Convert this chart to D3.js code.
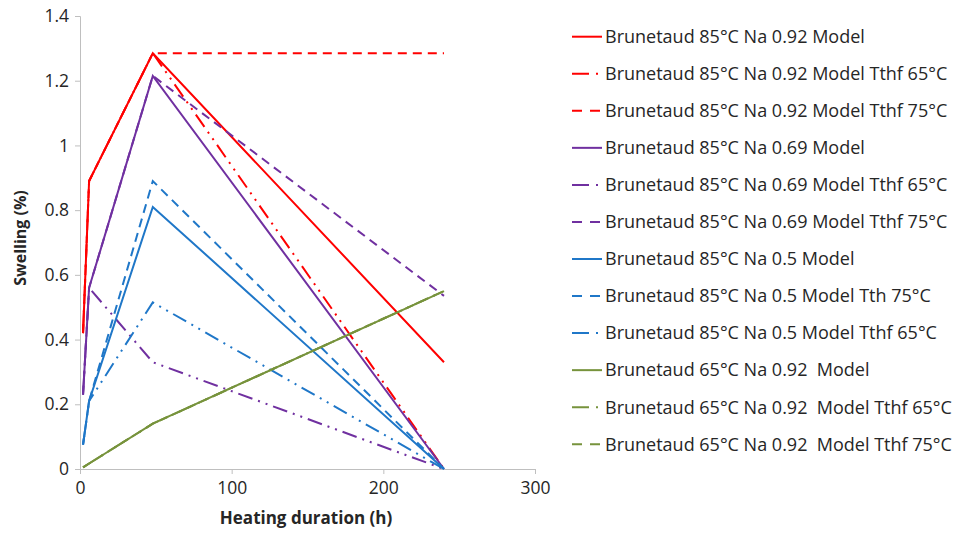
<!DOCTYPE html>
<html>
<head>
<meta charset="utf-8">
<script src="https://cdn.jsdelivr.net/npm/d3@7"></script>
<style>
  body { margin: 0; background: #fff; }
  text { font-family: "Open Sans", "Noto Sans", sans-serif; fill: #262626; }
</style>
</head>
<body>
<div id="chart"></div>
<script>
// heating times (h)
var hours = [2, 6, 48, 240];

var seriesNames = [
  "Brunetaud 85°C Na 0.92 Model",
  "Brunetaud 85°C Na 0.92 Model Tthf 65°C",
  "Brunetaud 85°C Na 0.92 Model Tthf 75°C",
  "Brunetaud 85°C Na 0.69 Model",
  "Brunetaud 85°C Na 0.69 Model Tthf 65°C",
  "Brunetaud 85°C Na 0.69 Model Tthf 75°C",
  "Brunetaud 85°C Na 0.5 Model",
  "Brunetaud 85°C Na 0.5 Model Tth 75°C",
  "Brunetaud 85°C Na 0.5 Model Tthf 65°C",
  "Brunetaud 65°C Na 0.92  Model",
  "Brunetaud 65°C Na 0.92  Model Tthf 65°C",
  "Brunetaud 65°C Na 0.92  Model Tthf 75°C"
];

var na092 = [0.42, 0.89, 1.285, 0.33];
var na092t65 = [0.42, 0.89, 1.285, 0];
var na092t75 = [0.42, 0.89, 1.285, 1.285];
var na069 = [0.23, 0.56, 1.215, 0];
var na069t65 = [0.23, 0.56, 0.33, 0];
var na069t75 = [0.23, 0.56, 1.215, 0.535];
var na05 = [0.075, 0.21, 0.81, 0];
var na05t75 = [0.075, 0.21, 0.89, 0];
var na05t65 = [0.075, 0.21, 0.515, 0];
var c65na092 = [0.005, 0.017, 0.14, 0.55];
var c65na092t65 = [0.005, 0.017, 0.14, 0.55];
var c65na092t75 = [0.005, 0.017, 0.14, 0.55];

var xTicks = [0, 100, 200, 300];
var yTicks = [0, 0.2, 0.4, 0.6, 0.8, 1, 1.2, 1.4];

var values = [na092, na092t65, na092t75, na069, na069t65, na069t75,
              na05, na05t75, na05t65, c65na092, c65na092t65, c65na092t75];

var red = "#ff0000", purple = "#7030a0", blue = "#1f77c8", green = "#77933c";
var colors = [red, red, red, purple, purple, purple, blue, blue, blue, green, green, green];
var solid = null, dashDot = "15,6,2,6,2,6", dashed = "9,6";
var dashes = [solid, dashDot, dashed, solid, dashDot, dashed, solid, dashed, dashDot, solid, dashDot, dashed];

var width = 953, height = 539;
var svg = d3.select("#chart").append("svg")
    .attr("width", width)
    .attr("height", height);

var x = d3.scaleLinear().domain([0, 300]).range([80, 535]);
var y = d3.scaleLinear().domain([0, 1.4]).range([469, 16]);

// axes
var xAxis = svg.append("g")
    .attr("transform", "translate(0," + y(0) + ")")
    .call(d3.axisBottom(x).tickValues(xTicks).tickSize(5).tickPadding(8).tickFormat(d3.format("d")));
var yAxis = svg.append("g")
    .attr("transform", "translate(" + x(0) + ",0)")
    .call(d3.axisLeft(y).tickValues(yTicks).tickSize(5).tickPadding(6).tickFormat(function(d) { return d3.format("")(+d.toFixed(1)); }));

[xAxis, yAxis].forEach(function(a) {
  a.select(".domain").attr("stroke", "#bfbfbf");
  a.selectAll(".tick line").attr("stroke", "#bfbfbf");
  a.selectAll(".tick text").style("font-size", "17.5px").style("font-family", "'Open Sans', sans-serif").attr("fill", "#404040");
});

// lines
var line = d3.line()
    .x(function(d, i) { return x(hours[i]); })
    .y(function(d) { return y(d); });

var order = d3.range(values.length);
svg.append("g").selectAll("path")
    .data(order)
    .enter().append("path")
    .attr("d", function(i) { return line(values[i]); })
    .attr("fill", "none")
    .attr("stroke", function(i) { return colors[i]; })
    .attr("stroke-width", 2)
    .attr("stroke-dasharray", function(i) { return dashes[i]; });

// axis titles
svg.append("text")
    .attr("x", 306).attr("y", 524)
    .attr("text-anchor", "middle")
    .style("font-size", "17px").style("font-weight", "bold")
    .text("Heating duration (h)");

svg.append("text")
    .attr("transform", "translate(26,238) rotate(-90)")
    .attr("text-anchor", "middle")
    .style("font-size", "16px").style("font-weight", "bold")
    .text("Swelling (%)");

// legend
var legend = svg.append("g").selectAll("g")
    .data(seriesNames)
    .enter().append("g")
    .attr("transform", function(d, i) { return "translate(572," + (36.7 + i * 37.05) + ")"; });

legend.append("line")
    .attr("x1", 0).attr("x2", 30)
    .attr("stroke", function(d, i) { return colors[i]; })
    .attr("stroke-width", 2)
    .attr("stroke-dasharray", function(d, i) {
      if (dashes[i] === dashDot) return "17,7,2,10";
      if (dashes[i] === dashed) return "10,8";
      return null;
    });

legend.append("text")
    .attr("x", 33).attr("dy", "0.35em")
    .style("font-size", "18px")
    .style("white-space", "pre")
    .text(function(d) { return d; });
</script>
</body>
</html>
